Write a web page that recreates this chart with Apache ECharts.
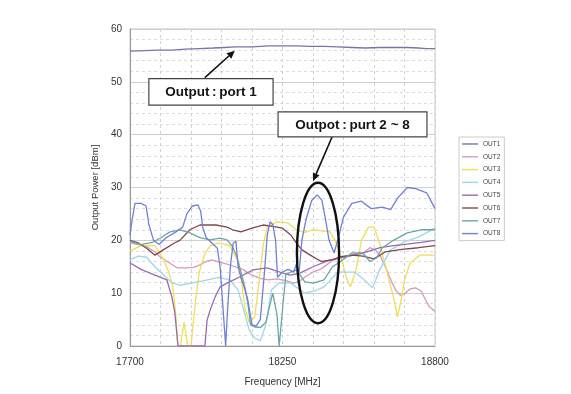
<!DOCTYPE html>
<html>
<head>
<meta charset="utf-8">
<script src="https://cdn.jsdelivr.net/npm/echarts@6/dist/echarts.min.js"></script>
<style>
html,body{margin:0;padding:0;background:#fff;}
#chart{width:571px;height:394px;}
</style>
</head>
<body>
<div id="chart"></div>
<script>
// ---- data (frequency MHz, output power dBm) ----
const seriesNames = ['OUT1','OUT2','OUT3','OUT4','OUT5','OUT6','OUT7','OUT8'];
const xTickLabels = [17700, 18250, 18800];
const yTicks = [0, 10, 20, 30, 40, 50, 60];

const OUT1 = [[17700,55.8],[17750,55.9],[17800,56.0],[17850,56.0],[17900,56.2],[17950,56.3],[18000,56.4],[18040,56.5],[18080,56.6],[18140,56.6],[18200,56.8],[18250,56.8],[18300,56.8],[18350,56.7],[18400,56.7],[18450,56.6],[18500,56.5],[18550,56.4],[18600,56.5],[18650,56.5],[18700,56.5],[18740,56.4],[18770,56.3],[18800,56.3]];
const OUT2 = [[17700,19.5],[17730,19.2],[17760,18.8],[17790,17.8],[17810,16.8],[17840,15.8],[17870,14.8],[17900,14.8],[17930,14.9],[17950,15.3],[17975,16.0],[17995,16.3],[18020,15.9],[18050,15.5],[18080,15.0],[18110,14.4],[18140,13.4],[18170,12.8],[18200,12.5],[18230,12.7],[18260,12.4],[18290,11.9],[18310,12.2],[18330,13.0],[18360,14.0],[18390,14.6],[18430,16.2],[18470,16.9],[18510,17.2],[18540,17.5],[18565,18.6],[18585,18.2],[18605,16.8],[18625,14.5],[18645,12.0],[18660,10.4],[18675,9.6],[18690,9.9],[18710,10.8],[18730,11.0],[18750,10.4],[18765,8.8],[18780,7.4],[18800,6.6]];
const OUT3 = [[17700,18.0],[17740,19.0],[17790,19.0],[17820,16.5],[17840,14.0],[17855,11.0],[17865,6.0],[17873,0],[17882,0],[17895,4.5],[17908,0],[17920,0],[17935,8.0],[17950,14.0],[17970,17.5],[17990,19.0],[18020,19.5],[18060,19.0],[18090,16.0],[18100,13.0],[18115,7.0],[18130,4.5],[18150,5.5],[18165,12.0],[18180,19.0],[18195,22.5],[18230,23.5],[18270,23.3],[18300,22.0],[18330,21.5],[18360,22.0],[18420,21.6],[18440,20.0],[18460,17.0],[18480,13.0],[18495,11.2],[18515,14.4],[18535,20.0],[18560,22.5],[18580,22.5],[18600,19.5],[18625,14.4],[18650,9.3],[18665,5.5],[18680,9.3],[18690,12.5],[18710,15.7],[18745,17.2],[18800,17.2]];
const OUT4 = [[17700,16.3],[17730,17.0],[17760,16.8],[17790,15.0],[17820,13.5],[17850,12.0],[17880,11.5],[17930,12.0],[17980,12.5],[18020,13.0],[18060,12.5],[18090,10.6],[18110,6.8],[18130,3.0],[18150,1.5],[18170,1.0],[18190,4.0],[18210,10.6],[18240,12.0],[18280,11.9],[18330,10.0],[18370,10.5],[18400,11.2],[18450,14.0],[18510,14.0],[18545,12.5],[18575,11.0],[18600,14.4],[18640,18.2],[18690,19.7],[18740,20.6],[18800,22.3]];
const OUT5 = [[17700,15.7],[17740,14.5],[17772,13.8],[17833,12.5],[17851,9.3],[17862,6.2],[17873,0],[17970,0],[17978,4.9],[17989,6.8],[18007,9.3],[18025,11.2],[18050,11.9],[18097,13.1],[18144,14.4],[18194,14.8],[18241,14.0],[18277,13.4],[18313,13.8],[18360,15.0],[18421,16.3],[18482,16.9],[18554,17.8],[18602,18.6],[18650,19.0],[18700,19.3],[18750,19.6],[18800,20.0]];
const OUT6 = [[17700,20.0],[17730,19.5],[17760,18.5],[17790,17.2],[17820,18.2],[17860,19.5],[17880,20.0],[17916,22.0],[17952,22.9],[18010,22.9],[18050,22.5],[18070,22.0],[18100,21.6],[18140,22.3],[18180,22.9],[18220,22.6],[18250,22.3],[18280,21.0],[18300,19.5],[18320,18.2],[18350,17.2],[18390,16.0],[18430,16.3],[18460,16.9],[18500,17.2],[18540,17.0],[18580,16.5],[18620,17.8],[18680,18.3],[18740,18.6],[18800,19.0]];
const OUT7 = [[17700,19.8],[17740,19.2],[17780,19.6],[17808,20.4],[17844,21.6],[17880,22.0],[17916,21.4],[17952,20.5],[17989,20.1],[18025,20.4],[18050,20.1],[18070,18.8],[18085,17.0],[18100,14.0],[18115,11.0],[18125,8.0],[18135,4.0],[18150,3.6],[18170,3.5],[18190,4.5],[18215,10.0],[18230,6.0],[18238,0],[18245,0],[18252,8.0],[18262,13.5],[18280,14.0],[18300,14.4],[18330,12.2],[18360,11.9],[18400,12.5],[18430,15.0],[18460,16.0],[18500,17.6],[18540,17.6],[18565,16.0],[18590,16.7],[18610,18.6],[18650,20.0],[18700,21.4],[18750,22.0],[18800,22.0]];
const OUT8 = [[17700,21.0],[17708,24.0],[17718,27.0],[17740,27.0],[17758,26.5],[17768,23.0],[17785,20.0],[17805,19.2],[17830,20.5],[17860,21.4],[17890,22.5],[17905,25.0],[17925,26.5],[17945,26.7],[17955,25.5],[17962,22.5],[17975,20.5],[17995,19.5],[18015,18.5],[18025,15.0],[18035,7.5],[18045,0],[18052,7.0],[18062,15.0],[18072,19.5],[18082,19.8],[18090,15.0],[18100,13.0],[18115,10.6],[18125,8.7],[18140,4.0],[18155,3.8],[18170,5.0],[18185,14.0],[18195,21.0],[18205,23.5],[18215,23.0],[18225,20.0],[18232,13.0],[18250,14.0],[18270,14.5],[18290,14.0],[18300,15.5],[18310,14.0],[18320,20.0],[18335,24.0],[18355,27.5],[18375,28.6],[18392,27.6],[18405,24.0],[18418,20.0],[18436,17.6],[18452,20.6],[18470,24.4],[18500,27.0],[18535,27.4],[18570,26.0],[18610,26.3],[18640,25.8],[18665,28.0],[18700,30.0],[18730,29.8],[18770,29.0],[18790,27.0],[18800,26.0]];

const seriesData = [OUT1, OUT2, OUT3, OUT4, OUT5, OUT6, OUT7, OUT8];
const seriesColors = ['#7676a8','#d59ac0','#f0de55','#9fd6ea','#9a6ab0','#80484c','#6aa6aa','#6f80d6'];

// annotation anchors in data coordinates
const note1 = { text: 'Output\u2009:\u2009port 1', box: [[17768, 50.6], [18216, 45.6]], arrow: [[17970, 50.8], [18078, 55.9]] };
const note2 = { text: 'Outpot\u2009:\u2009purt 2 ~ 8', box: [[18234, 44.3], [18771, 39.6]], arrow: [[18429, 39.6], [18360, 31.2]] };
const ring = { center: [18378, 17.6], halfWidth: 76, halfHeight: 13.3 };

const chart = echarts.init(document.getElementById('chart'), null, { renderer: 'canvas' });
const FONT = 'Liberation Sans, Arial, Helvetica, sans-serif';

chart.setOption({
  animation: false,
  backgroundColor: '#ffffff',
  grid: { left: 130, right: 136, top: 29, bottom: 48, show: true, borderColor: '#c8c8c8', borderWidth: 1, backgroundColor: 'transparent' },
  legend: {
    data: seriesNames, orient: 'vertical', left: 459, top: 137,
    padding: [3, 4, 3, 3], borderColor: '#cccccc', borderWidth: 1,
    icon: 'rect', itemWidth: 16, itemHeight: 1.4, itemGap: 4.8,
    textStyle: { fontSize: 6.5, lineHeight: 8, color: '#444', fontFamily: FONT }
  },
  xAxis: [{
    type: 'value', min: 17700, max: 18800,
    name: 'Frequency [MHz]', nameLocation: 'middle', nameGap: 31,
    nameTextStyle: { fontSize: 10, color: '#333', fontFamily: FONT },
    axisLine: { show: true, lineStyle: { color: '#999', width: 1 } },
    axisTick: { show: false },
    axisLabel: { customValues: xTickLabels, formatter: v => String(v), fontSize: 10, color: '#333', margin: 11, fontFamily: FONT },
    splitLine: { show: false }
  }, {
    type: 'value', min: 0, max: 10, interval: 1, position: 'bottom',
    axisLine: { show: false }, axisTick: { show: false }, axisLabel: { show: false },
    splitLine: { show: true, lineStyle: { color: '#d2d2d2', type: [3, 3], width: 1 } }
  }],
  yAxis: {
    type: 'value', min: 0, max: 60, interval: 10,
    name: 'Output Power [dBm]', nameLocation: 'middle', nameGap: 28,
    nameTextStyle: { fontSize: 9.5, color: '#333', fontFamily: FONT },
    axisLine: { show: true, lineStyle: { color: '#999', width: 1 } },
    axisTick: { show: false },
    axisLabel: { fontSize: 10, color: '#333', margin: 8, fontFamily: FONT },
    splitLine: { show: true, lineStyle: { color: '#cfcfcf', width: 1 } },
    minorTick: { show: false, splitNumber: 5 },
    minorSplitLine: { show: true, lineStyle: { color: '#dcdcdc', type: [3, 3], width: 1 } }
  },
  series: seriesNames.map((n, i) => ({
    name: n, type: 'line', xAxisIndex: 0, yAxisIndex: 0,
    data: seriesData[i], symbol: 'none', smooth: false,
    lineStyle: { color: seriesColors[i], width: 1.3 },
    itemStyle: { color: seriesColors[i] }
  }))
});

function P(d) { return chart.convertToPixel({ xAxisIndex: 0, yAxisIndex: 0 }, d); }
function arrowEls(a, b) {
  const p0 = P(a), p1 = P(b);
  const dx = p1[0] - p0[0], dy = p1[1] - p0[1];
  const L = Math.sqrt(dx * dx + dy * dy), ux = dx / L, uy = dy / L;
  const hl = 8, hw = 3.6;
  const bx = p1[0] - ux * hl, by = p1[1] - uy * hl;
  return [
    { type: 'line', shape: { x1: p0[0], y1: p0[1], x2: bx, y2: by }, style: { stroke: '#111', lineWidth: 1.6 }, z: 100 },
    { type: 'polygon', shape: { points: [[p1[0], p1[1]], [bx - uy * hw, by + ux * hw], [bx + uy * hw, by - ux * hw]] }, style: { fill: '#111' }, z: 100 }
  ];
}
function noteEls(n) {
  const a = P(n.box[0]), b = P(n.box[1]);
  return [
    { type: 'rect', shape: { x: a[0], y: a[1], width: b[0] - a[0], height: b[1] - a[1] }, style: { fill: '#fff', stroke: '#444', lineWidth: 1.2 }, z: 100 },
    { type: 'text', x: (a[0] + b[0]) / 2, y: (a[1] + b[1]) / 2 + 0.5, style: { text: n.text, align: 'center', verticalAlign: 'middle', fill: '#151515', font: 'bold 13.5px ' + FONT }, z: 101 }
  ];
}
const c = P(ring.center);
const rx = P([ring.center[0] + ring.halfWidth, ring.center[1]])[0] - c[0];
const ry = c[1] - P([ring.center[0], ring.center[1] + ring.halfHeight])[1];
chart.setOption({
  graphic: [].concat(
    arrowEls(note1.arrow[0], note1.arrow[1]),
    noteEls(note1),
    arrowEls(note2.arrow[0], note2.arrow[1]),
    noteEls(note2),
    [{ type: 'ellipse', shape: { cx: c[0], cy: c[1], rx: rx, ry: ry }, style: { fill: 'none', stroke: '#111', lineWidth: 2.4 }, z: 100 }]
  )
});
</script>
</body>
</html>
